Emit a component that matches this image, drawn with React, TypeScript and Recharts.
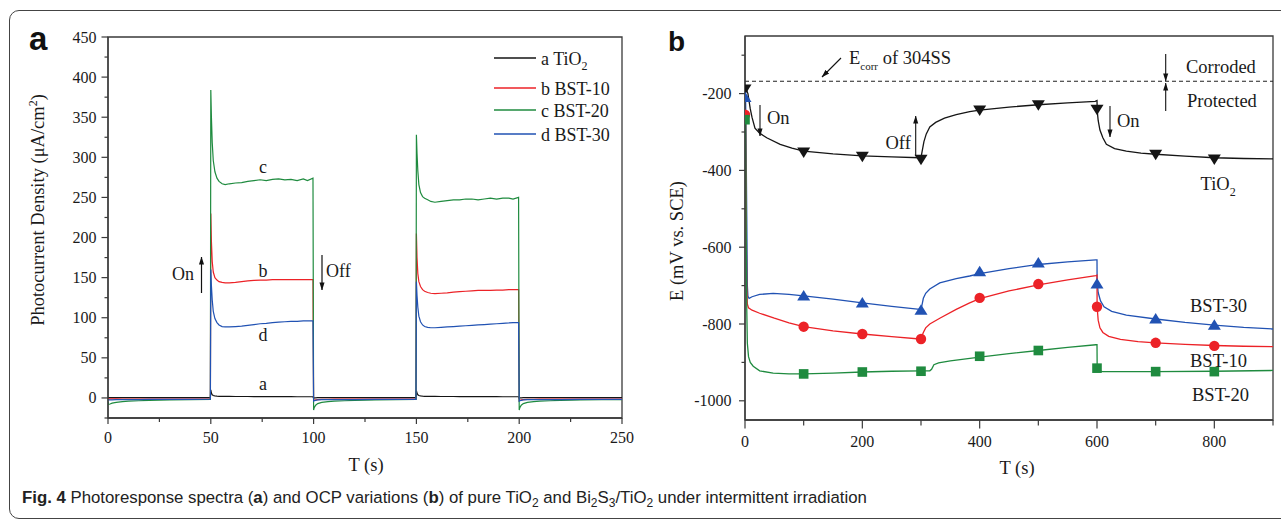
import React from 'react'
import {
  ComposedChart,
  Legend,
  Line,
  ReferenceArea,
  ReferenceLine,
  Scatter,
  XAxis,
  YAxis,
} from 'recharts'

const SERIF = "'Liberation Serif', 'Times New Roman', serif"
const SANS = "'Liberation Sans', Arial, sans-serif"
const INK = '#1a1a1a'
const AX = '#3a3a3a'
const BLACK = '#151515'
const RED = '#ec2227'
const GREEN = '#1f8b3f'
const BLUE = '#2152b3'

// ---- panel a: photocurrent (µA/cm2) vs time (s)
const aTimes = [
  0, 0.3, 1, 2, 4, 7, 10, 15, 20, 30, 40, 49.8,
  50, 50.3, 50.7, 51.2, 52, 53, 54, 55.5, 57, 59, 62, 65, 68, 71, 74, 77, 80, 83, 86, 89, 92, 95, 97, 99.7,
  100, 100.3, 101, 102, 104, 107, 110, 115, 120, 130, 140, 149.8,
  150, 150.3, 150.7, 151.2, 152, 153, 154, 155.5, 157, 159, 162, 165, 168, 171, 174, 177, 180, 183, 186, 189, 192, 195, 197, 199.7,
  200, 200.3, 201, 202, 204, 207, 210, 215, 220, 230, 240, 250,
]
const aTiO2 = [
  0.3, 0.3, 0.3, 0.3, 0.3, 0.3, 0.3, 0.3, 0.3, 0.3, 0.3, 0.3,
  10, 6, 4, 3, 2.5, 2.2, 2, 2, 2, 1.9, 1.8, 1.8, 1.8, 1.7, 1.7, 1.7, 1.6, 1.6, 1.6, 1.6, 1.5, 1.5, 1.5, 1.5,
  -0.5, 0, 0.2, 0.3, 0.3, 0.3, 0.3, 0.3, 0.3, 0.3, 0.3, 0.3,
  9, 6, 4, 3, 2.5, 2.2, 2, 2, 1.9, 1.9, 1.8, 1.8, 1.8, 1.7, 1.7, 1.7, 1.6, 1.6, 1.6, 1.6, 1.5, 1.5, 1.5, 1.5,
  -0.5, 0, 0.2, 0.3, 0.3, 0.3, 0.3, 0.3, 0.3, 0.3, 0.3, 0.3,
]
const aBST10 = [
  -1, -1.2, -1.2, -1.2, -1.2, -1.3, -1.3, -1.3, -1.4, -1.4, -1.5, -1.5,
  230, 195, 170, 157, 150, 147, 145, 144, 143.5, 143.5, 144, 145, 146, 146.5, 147, 147, 147.5, 147.5, 147.5, 147.5, 147.5, 147.5, 147.5, 147.5,
  -3.5, -3, -2.5, -2, -1.8, -1.6, -1.5, -1.5, -1.5, -1.5, -1.5, -1.5,
  205, 175, 155, 145, 139, 135, 133, 131.5, 130.5, 130, 130.5, 131, 132, 132.5, 133, 133.5, 134, 134, 134, 134.5, 134.5, 135, 135, 135,
  -3.5, -3, -2.5, -2, -1.8, -1.6, -1.5, -1.5, -1.5, -1.5, -1.5, -1.5,
]
const aBST20 = [
  -5, -8, -7.5, -6.5, -5.5, -4.5, -4, -3.5, -3, -2.5, -2, -1.8,
  384, 350, 318, 296, 282, 274, 270, 267, 266, 267, 268, 268.5, 270, 271, 272, 271, 272.5, 273, 272, 272.5, 271, 273, 271, 274,
  -15, -12, -9, -7, -5.5, -4.5, -4, -3.5, -3, -2.5, -2, -1.8,
  328, 305, 283, 266, 256, 251, 249, 247, 245, 244, 245, 246, 247, 247, 248, 248, 247, 248, 249, 248, 249, 249, 248, 250,
  -15, -12, -9, -7, -5.5, -4.5, -4, -3.5, -3, -2.5, -2, -2,
]
const aBST30 = [
  -2, -2.5, -2.5, -2.3, -2.2, -2, -2, -2, -1.8, -1.8, -1.7, -1.6,
  160, 140, 122, 108, 99, 94, 91, 89, 88.5, 88.5, 89, 89.5, 90.5, 91.5, 92.5, 93, 94, 94.5, 95, 95.5, 95.5, 96, 96, 96,
  -4, -3.5, -3, -2.5, -2.2, -2, -2, -2, -2, -1.8, -1.8, -1.8,
  145, 128, 113, 102, 95, 91, 89, 88, 87.5, 87.5, 88, 88.5, 89, 89.5, 90, 90.5, 91, 91.5, 92, 92.5, 93, 93.5, 94, 94,
  -4, -3.5, -3, -2.5, -2.2, -2, -2, -2, -2, -1.8, -1.8, -1.8,
]
const aXTicks = [0, 25, 50, 75, 100, 125, 150, 175, 200, 225, 250]
const aYTicks = [-25, 0, 25, 50, 75, 100, 125, 150, 175, 200, 225, 250, 275, 300, 325, 350, 375, 400, 425, 450]
const aLegend = [
  { key: 'a', label: 'a TiO', sub: '2', color: BLACK },
  { key: 'b', label: 'b BST-10', sub: '', color: RED },
  { key: 'c', label: 'c BST-20', sub: '', color: GREEN },
  { key: 'd', label: 'd BST-30', sub: '', color: BLUE },
]

// ---- panel b: OCP (mV vs. SCE) vs time (s)
const bTiO2T = [0, 3, 5, 7, 9, 12, 17, 25, 37, 60, 80, 100, 150, 200, 250, 298,
  300, 302, 305, 309, 315, 325, 340, 360, 383, 400, 450, 500, 550, 597,
  600, 600.4, 602, 605, 610, 616, 630, 650, 675, 700, 750, 800, 850, 900]
const bTiO2V = [-188, -192, -200, -220, -240, -262, -290, -303, -315, -332, -342, -350, -357, -362, -365, -367,
  -367, -350, -325, -305, -287, -275, -264, -255, -247, -243, -235, -229, -224, -220,
  -218, -245, -270, -295, -315, -332, -343, -350, -355, -358, -363, -367, -369, -370]
const bBST30T = [0, 1, 2, 3, 4, 5, 7, 12, 25, 48, 75, 100, 150, 200, 250, 298,
  300, 302, 304, 308, 315, 332, 360, 383, 400, 450, 500, 550, 598,
  600, 600.2, 602, 606, 612, 625, 650, 700, 750, 800, 850, 900]
const bBST30V = [-210, -212, -350, -520, -700, -728, -733, -729, -723, -720, -723, -727, -735, -745, -754, -762,
  -762, -748, -733, -720, -709, -693, -682, -675, -669, -656, -645, -638, -633,
  -633, -690, -718, -740, -755, -767, -777, -787, -796, -803, -809, -813]
const bBST10T = [0, 1, 2, 3, 4, 6, 12, 25, 50, 75, 100, 150, 200, 250, 298,
  300, 302, 304, 308, 315, 332, 360, 383, 400, 450, 500, 550, 598,
  600, 600.2, 602, 605, 610, 620, 640, 670, 700, 750, 800, 850, 900]
const bBST10V = [-255, -262, -520, -700, -748, -758, -764, -772, -785, -797, -807, -818, -826, -833, -839,
  -839, -830, -822, -810, -800, -785, -762, -745, -734, -714, -698, -685, -674,
  -673, -755, -790, -810, -822, -832, -840, -846, -849, -853, -856, -858, -859]
const bBST20T = [0, 1, 2, 3, 4, 6, 9, 14, 25, 48, 75, 100, 150, 200, 250, 300, 315,
  318, 322, 330, 350, 400, 450, 500, 550, 598,
  600, 600.3, 603, 610, 650, 700, 800, 900]
const bBST20V = [-265, -272, -555, -760, -850, -885, -900, -910, -922, -928, -930, -930, -928, -925, -923, -922, -922,
  -918, -906, -901, -896, -886, -877, -869, -861, -854,
  -854, -916, -923, -924, -924, -924, -923, -921]
const bMarkT = [0, 100, 200, 300, 400, 500, 600, 700, 800]
const bTiO2M = [-188, -352, -363, -371, -243, -229, -241, -358, -370]
const bBST30M = [-210, -727, -745, -764, -664, -641, -696, -787, -803]
const bBST10M = [-255, -807, -826, -839, -732, -696, -755, -849, -857]
const bBST20M = [-268, -930, -925, -923, -884, -869, -915, -924, -924]
const bXTicks = [0, 100, 200, 300, 400, 500, 600, 700, 800, 900]
const bYTicks = [-1000, -900, -800, -700, -600, -500, -400, -300, -200, -100]
const bEcorr = -168

const pts = (ts: number[], vs: number[]) => ts.map((t, i) => ({ t, v: vs[i] }))

const tickText = { fontFamily: SERIF, fontSize: 16 }

// ticks drawn by hand so major/minor can differ
function xTick(every: number, big: number, small: number, gap: number) {
  return (p: any) => {
    const v = p.payload.value
    const major = Math.abs(v % every) < 1e-9
    return (
      <g>
        <line x1={p.x} x2={p.x} y1={p.y} y2={p.y + (major ? big : small)} stroke={AX} strokeWidth={1.2} />
        {major && (
          <text x={p.x} y={p.y + gap} textAnchor="middle" dominantBaseline="central" fontFamily={SERIF} style={tickText} fill={INK}>
            {v}
          </text>
        )}
      </g>
    )
  }
}
function yTick(every: number, big: number, small: number, gap: number) {
  return (p: any) => {
    const v = p.payload.value
    const major = Math.abs(v % every) < 1e-9
    return (
      <g>
        <line x1={p.x} x2={p.x - (major ? big : small)} y1={p.y} y2={p.y} stroke={AX} strokeWidth={1.2} />
        {major && (
          <text x={p.x - gap} y={p.y} textAnchor="end" dominantBaseline="central" fontFamily={SERIF} style={tickText} fill={INK}>
            {v}
          </text>
        )}
      </g>
    )
  }
}

const triDown = (p: any) => (
  <path d={`M${p.cx - 6.5},${p.cy - 4.5}L${p.cx + 6.5},${p.cy - 4.5}L${p.cx},${p.cy + 6}Z`} fill={BLACK} />
)
const triUp = (p: any) => (
  <path d={`M${p.cx - 6.5},${p.cy + 4.5}L${p.cx + 6.5},${p.cy + 4.5}L${p.cx},${p.cy - 6}Z`} fill={BLUE} />
)
const dotShape = (p: any) => <circle cx={p.cx} cy={p.cy} r={5.2} fill={RED} />
const sqShape = (p: any) => <rect x={p.cx - 4.8} y={p.cy - 4.8} width={9.6} height={9.6} fill={GREEN} />

function LegendA() {
  // offsets relative to the legend box at (488, 44)
  const rows = [14, 44, 66, 90]
  return (
    <svg width={150} height={110} style={{ display: 'block' }}>
      {aLegend.map((it, i) => (
        <g key={it.key}>
          <line x1={6} x2={48} y1={rows[i]} y2={rows[i]} stroke={it.color} strokeWidth={1.3} />
          <text x={53} y={rows[i] + 6.5} style={{ fontFamily: SERIF, fontSize: 18 }} fill={INK}>
            {it.label}
            {it.sub && (
              <tspan dy={5} style={{ fontSize: 12 }}>
                {it.sub}
              </tspan>
            )}
          </text>
        </g>
      ))}
    </svg>
  )
}

const T = ({ size = 18, style, ...rest }: any) => (
  <text fill={INK} style={{ fontFamily: SERIF, fontSize: size, ...style }} {...rest} />
)

export default function App() {
  const aData = aTimes.map((t, i) => ({ t, a: aTiO2[i], b: aBST10[i], c: aBST20[i], d: aBST30[i] }))
  const axisLine = { stroke: AX, strokeWidth: 1.3 }

  return (
    <div style={{ position: 'absolute', left: 0, top: 0, width: 1281, height: 521, background: '#fff', overflow: 'hidden', fontFamily: SERIF }}>
      <div style={{ position: 'absolute', left: 9, top: 10, width: 1300, height: 507, border: '1.6px solid #444', borderRadius: 10 }} />

      {/* panel a */}
      <div style={{ position: 'absolute', left: 0, top: 0 }}>
        <ComposedChart width={640} height={480} data={aData} margin={{ top: 37, right: 18, bottom: 0, left: 48 }}>
          <XAxis dataKey="t" type="number" domain={[0, 250]} ticks={aXTicks} interval={0} height={62}
            tickLine={false} tickSize={0} tickMargin={0} axisLine={axisLine} tick={xTick(50, 6, 4, 19.5)} allowDataOverflow />
          <YAxis type="number" domain={[-25, 450]} ticks={aYTicks} interval={0} width={60}
            tickLine={false} tickSize={0} tickMargin={0} axisLine={axisLine} tick={yTick(50, 6.5, 3.5, 11.5)} allowDataOverflow />
          <ReferenceArea x1={0} x2={250} y1={-25} y2={450} fill="none" stroke={AX} strokeWidth={1.3} />
          <Line dataKey="a" name="a TiO2" type="linear" stroke={BLACK} strokeWidth={1.2} dot={false} isAnimationActive={false} />
          <Line dataKey="b" name="b BST-10" type="linear" stroke={RED} strokeWidth={1.2} dot={false} isAnimationActive={false} />
          <Line dataKey="c" name="c BST-20" type="linear" stroke={GREEN} strokeWidth={1.2} dot={false} isAnimationActive={false} />
          <Line dataKey="d" name="d BST-30" type="linear" stroke={BLUE} strokeWidth={1.2} dot={false} isAnimationActive={false} />
          <Legend layout="vertical" align="center" verticalAlign="middle" content={() => <LegendA />}
            wrapperStyle={{ left: 488, top: 44, width: 150, height: 110 }} />
        </ComposedChart>
      </div>

      {/* panel b */}
      <div style={{ position: 'absolute', left: 640, top: 0 }}>
        <ComposedChart width={641} height={480} margin={{ top: 36, right: 8, bottom: 0, left: 45 }}>
          <XAxis dataKey="t" type="number" domain={[0, 900]} ticks={bXTicks} interval={0} height={60}
            tickLine={false} tickSize={0} tickMargin={0} axisLine={axisLine} tick={xTick(200, 8.5, 5.5, 21)} allowDataOverflow />
          <YAxis dataKey="v" type="number" domain={[-1050, -50]} ticks={bYTicks} interval={0} width={60}
            tickLine={false} tickSize={0} tickMargin={0} axisLine={axisLine} tick={yTick(200, 6, 3.5, 13.5)} allowDataOverflow />
          <ReferenceArea x1={0} x2={900} y1={-1050} y2={-50} fill="none" stroke={AX} strokeWidth={1.3} />
          <ReferenceLine y={bEcorr} stroke="#222" strokeWidth={1.1} strokeDasharray="4 3" />
          <Line data={pts(bTiO2T, bTiO2V)} dataKey="v" name="TiO2" type="linear" stroke={BLACK} strokeWidth={1.3} dot={false} isAnimationActive={false} />
          <Line data={pts(bBST30T, bBST30V)} dataKey="v" name="BST-30" type="linear" stroke={BLUE} strokeWidth={1.3} dot={false} isAnimationActive={false} />
          <Line data={pts(bBST10T, bBST10V)} dataKey="v" name="BST-10" type="linear" stroke={RED} strokeWidth={1.3} dot={false} isAnimationActive={false} />
          <Line data={pts(bBST20T, bBST20V)} dataKey="v" name="BST-20" type="linear" stroke={GREEN} strokeWidth={1.3} dot={false} isAnimationActive={false} />
          <Scatter data={pts(bMarkT, bTiO2M)} shape={triDown} isAnimationActive={false} />
          <Scatter data={pts(bMarkT, bBST30M)} shape={triUp} isAnimationActive={false} />
          <Scatter data={pts(bMarkT, bBST10M)} shape={dotShape} isAnimationActive={false} />
          <Scatter data={pts(bMarkT, bBST20M)} shape={sqShape} isAnimationActive={false} />
        </ComposedChart>
      </div>

      {/* titles, annotations, caption */}
      <svg width={1281} height={521} style={{ position: 'absolute', left: 0, top: 0, pointerEvents: 'none' }}>
        <defs>
          <marker id="ah" viewBox="0 0 10 10" refX="9.5" refY="5" markerWidth="8" markerHeight="8" markerUnits="userSpaceOnUse" orient="auto">
            <path d="M0,1.8L10,5L0,8.2Z" fill="#111" />
          </marker>
        </defs>

        <text x={29} y={50} style={{ fontFamily: SANS, fontWeight: 'bold', fontSize: 33 }} fill="#111">a</text>
        <text x={668} y={50.5} style={{ fontFamily: SANS, fontWeight: 'bold', fontSize: 28 }} fill="#111">b</text>

        {/* axis titles */}
        <T x={43.5} y={210} size={18.5} textAnchor="middle" transform="rotate(-90 43.5 210)">
          Photocurrent Density (μA/cm<tspan dy={-7} style={{ fontSize: 12 }}>2</tspan><tspan dy={7}>)</tspan>
        </T>
        <T x={366} y={471} size={18.5} textAnchor="middle">T (s)</T>
        <T x={683} y={241} size={18.5} textAnchor="middle" transform="rotate(-90 683 241)">E (mV vs. SCE)</T>
        <T x={1017} y={474} size={18.5} textAnchor="middle">T (s)</T>

        {/* panel a labels */}
        <T x={263} y={172.5} textAnchor="middle">c</T>
        <T x={263} y={276.5} textAnchor="middle">b</T>
        <T x={263} y={340.5} textAnchor="middle">d</T>
        <T x={263} y={390} textAnchor="middle">a</T>
        <T x={172} y={280}>On</T>
        <line x1={201.5} x2={201.5} y1={293} y2={257} stroke="#111" strokeWidth={1.2} markerEnd="url(#ah)" />
        <line x1={322} x2={322} y1={255} y2={290} stroke="#111" strokeWidth={1.2} markerEnd="url(#ah)" />
        <T x={326} y={277}>Off</T>

        {/* panel b labels */}
        <T x={849} y={64} size={18.5}>
          E<tspan dy={6} style={{ fontSize: 11 }}>corr</tspan><tspan dy={-6}> of 304SS</tspan>
        </T>
        <line x1={841} y1={58} x2={822} y2={77} stroke="#111" strokeWidth={1.1} markerEnd="url(#ah)" />
        <T x={1186} y={73} size={18.5}>Corroded</T>
        <T x={1187} y={107} size={18.5}>Protected</T>
        <line x1={1165.7} x2={1165.7} y1={54} y2={81} stroke="#111" strokeWidth={1.1} markerEnd="url(#ah)" />
        <line x1={1165.7} x2={1165.7} y1={111} y2={83} stroke="#111" strokeWidth={1.1} markerEnd="url(#ah)" />
        <line x1={760} x2={760} y1={105} y2={136} stroke="#111" strokeWidth={1.1} markerEnd="url(#ah)" />
        <T x={767} y={124.3} size={18.5}>On</T>
        <line x1={915.7} x2={915.7} y1={156} y2={116} stroke="#111" strokeWidth={1.1} markerEnd="url(#ah)" />
        <T x={885.5} y={149} size={18.5}>Off</T>
        <line x1={1110} x2={1110} y1={106} y2={137} stroke="#111" strokeWidth={1.1} markerEnd="url(#ah)" />
        <T x={1117} y={126.5} size={18.5}>On</T>
        <T x={1200.5} y={190} size={18.5}>
          TiO<tspan dy={6} style={{ fontSize: 12 }}>2</tspan>
        </T>
        <T x={1190} y={311.5} size={18.5}>BST-30</T>
        <T x={1190} y={366.5} size={18.5}>BST-10</T>
        <T x={1192} y={401} size={18.5}>BST-20</T>

        {/* caption */}
        <text x={22} y={503} style={{ fontFamily: SANS, fontSize: 16.8 }} fill="#222">
          <tspan fontWeight="bold">Fig. 4</tspan>
          <tspan> Photoresponse spectra (</tspan>
          <tspan fontWeight="bold">a</tspan>
          <tspan>) and OCP variations (</tspan>
          <tspan fontWeight="bold">b</tspan>
          <tspan>) of pure TiO</tspan>
          <tspan dy={4} style={{ fontSize: 12 }}>2</tspan>
          <tspan dy={-4}> and Bi</tspan>
          <tspan dy={4} style={{ fontSize: 12 }}>2</tspan>
          <tspan dy={-4}>S</tspan>
          <tspan dy={4} style={{ fontSize: 12 }}>3</tspan>
          <tspan dy={-4}>/TiO</tspan>
          <tspan dy={4} style={{ fontSize: 12 }}>2</tspan>
          <tspan dy={-4}> under intermittent irradiation</tspan>
        </text>
      </svg>
    </div>
  )
}
